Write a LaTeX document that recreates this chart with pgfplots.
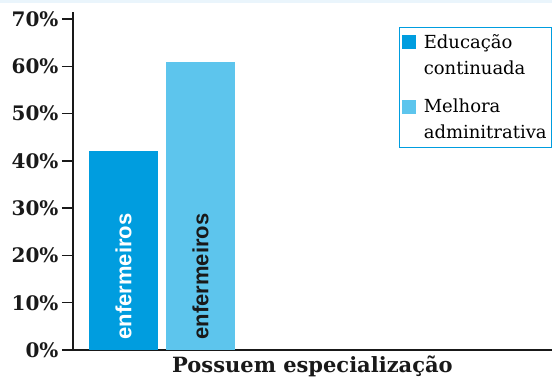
\documentclass[border=0pt]{standalone}
\usepackage{pgfplots}
\pgfplotsset{compat=1.18}
\usepackage{fontspec}
\setmainfont{DejaVu Serif}
\newfontfamily\barfont{Liberation Sans}
\definecolor{dblue}{RGB}{0,157,223}
\definecolor{lblue}{RGB}{93,197,237}
\definecolor{topband}{RGB}{234,245,252}
\begin{document}
\begin{tikzpicture}
\path[use as bounding box] (0,0) rectangle (552pt,379pt);
\fill[topband] (0,376pt) rectangle (552pt,379pt);
\begin{axis}[
  at={(73pt,29pt)}, anchor=south west,
  scale only axis, width=479pt, height=338pt,
  xmin=0, xmax=479, ymin=0, ymax=71.5,
  axis x line=bottom, axis y line=left,
  axis line style={-, line width=1.5pt, black!90},
  xtick=\empty,
  ytick={0,10,...,70},
  yticklabel={\pgfmathprintnumber{\tick}\%},
  /pgf/number format/assume math mode=true,
  yticklabel style={font=\fontsize{20}{20}\selectfont\bfseries, black!90},
  tick style={line width=1.5pt, black!90},
  tick align=outside, major tick length=11pt,
  xlabel={Possuem especialização},
  xlabel style={font=\fontsize{21}{21}\selectfont\bfseries, black!90, yshift=9pt},
  ybar, bar width=69, bar shift=0pt,
  legend cell align=left,
  legend style={at={(1,0.955)}, anchor=north east, line width=0.6pt, draw=dblue,
    font=\fontsize{18}{26}\selectfont, row sep=19pt, inner xsep=3pt, inner ysep=5pt,
    nodes={align=left}},
  legend image code/.code={\fill[#1] (0pt,6pt) rectangle (14pt,20pt); \path (20pt,6pt);},
]
\addplot[fill=dblue, draw=none] coordinates {(50.5,42)};
\addlegendentry{Educação\\continuada}
\addplot[fill=lblue, draw=none] coordinates {(127.5,61)};
\addlegendentry{Melhora\\adminitrativa}
\node[rotate=90, anchor=west, inner sep=0pt, white, font=\barfont\bfseries\fontsize{22}{22}\selectfont] at (axis cs:50.5,2.2) {enfermeiros};
\node[rotate=90, anchor=west, inner sep=0pt, black!90, font=\barfont\bfseries\fontsize{22}{22}\selectfont] at (axis cs:127.5,2.2) {enfermeiros};
\end{axis}
\end{tikzpicture}
\end{document}
